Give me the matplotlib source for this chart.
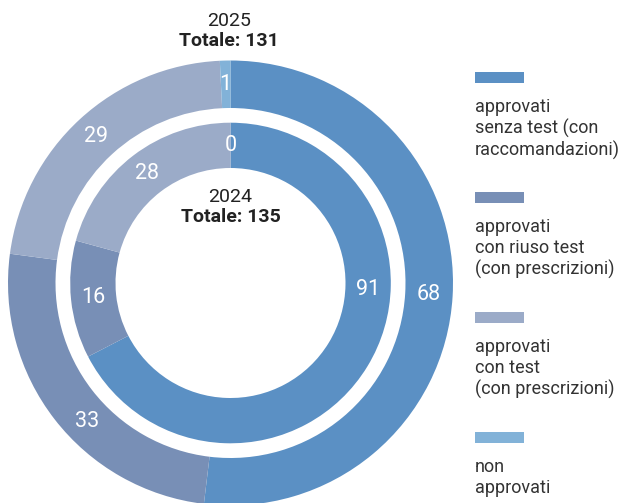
import numpy as np
import matplotlib
matplotlib.use("Agg")
from matplotlib import pyplot as plt
from matplotlib.patches import Rectangle

plt.rcParams['font.family'] = ['Roboto', 'DejaVu Sans']

categories = ['approvati\nsenza test (con\nraccomandazioni)',
              'approvati\ncon riuso test\n(con prescrizioni)',
              'approvati\ncon test\n(con prescrizioni)',
              'non\napprovati']
colors = ['#5b90c4', '#788fb6', '#9babc8', '#82b2d8']

values_2025 = [68, 33, 29, 1]
values_2024 = [91, 16, 28, 0]

# label angles that are moved away from the wedge middle
angle_2025 = {1: 224}
angle_2024 = {0: -2.5}

W, H = 623, 503
cx, cy = 230.5, H - 283
r_out, w_out = 222.5, 47.5
r_in, w_in = 160.3, 45.3

fig = plt.figure(figsize=(W / 100, H / 100), dpi=100)
ax = fig.add_axes([0, 0, 1, 1])


def ring(values, radius, width, overrides):
    ax.pie(values, radius=radius, center=(cx, cy), colors=colors,
           startangle=90, counterclock=False,
           wedgeprops=dict(width=width, linewidth=0))
    total = sum(values)
    start = 90.0
    r_lab = radius - width / 2
    for i, v in enumerate(values):
        span = 360.0 * v / total
        mid = start - span / 2
        ang = np.radians(overrides.get(i, mid))
        ax.text(cx + r_lab * np.cos(ang), cy + r_lab * np.sin(ang), str(v),
                color='white', fontsize=15.5, ha='center', va='center')
        start -= span
    return total


tot25 = ring(values_2025, r_out, w_out, angle_2025)
tot24 = ring(values_2024, r_in, w_in, angle_2024)

ax.text(229, H - 20.7, '2025', fontsize=14, color='#222222',
        ha='center', va='center')
ax.text(229, H - 40.7, 'Totale: %d' % tot25, fontsize=14, fontweight='bold',
        color='#222222', ha='center', va='center')
ax.text(230.5, H - 196.7, '2024', fontsize=14, color='#222222',
        ha='center', va='center')
ax.text(230.5, H - 216.7, 'Totale: %d' % tot24, fontsize=14,
        fontweight='bold', color='#222222', ha='center', va='center')

# legend on the right
for i, (lab, col) in enumerate(zip(categories, colors)):
    top = 72 + 120 * i
    ax.add_patch(Rectangle((475, H - top - 11), 49, 11, color=col,
                           linewidth=0))
    ax.text(475, H - top - 26, lab, fontsize=13, color='#333333',
            ha='left', va='top', linespacing=1.2)

ax.set_xlim(0, W)
ax.set_ylim(0, H)
ax.set_aspect('equal')
ax.axis('off')

fig.savefig('out.png', dpi=100)
